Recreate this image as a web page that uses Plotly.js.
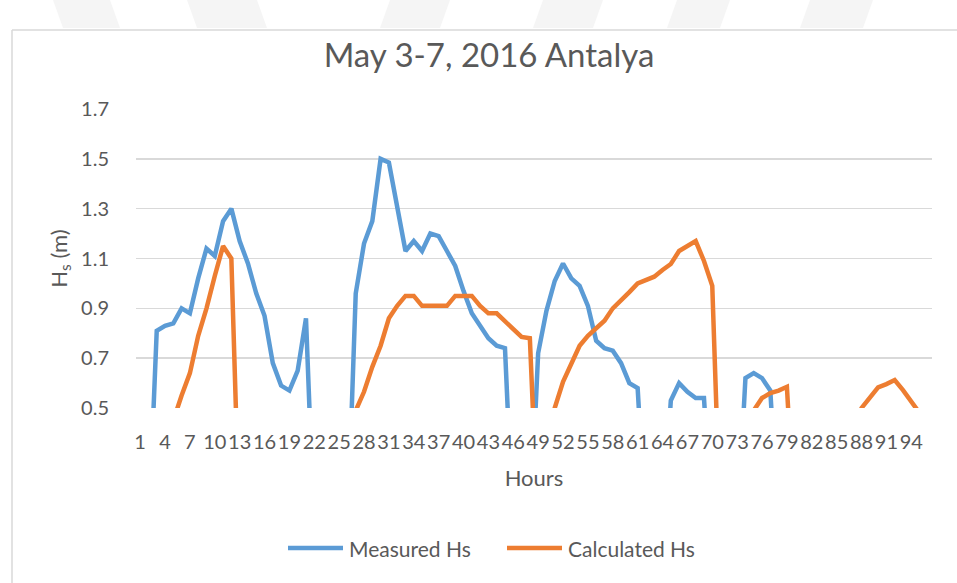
<!DOCTYPE html>
<html>
<head>
<meta charset="utf-8">
<script src="https://cdn.plot.ly/plotly-3.0.1.min.js"></script>
<style>
html,body{margin:0;padding:0;background:#fff;}
#chart{width:957px;height:583px;}
</style>
</head>
<body>
<div id="chart"></div>
<script>
// Hours (categories)
var hours = [1,2,3,4,5,6,7,8,9,10,11,12,13,14,15,16,17,18,19,20,21,22,23,24,25,26,27,28,29,30,31,32,33,34,35,36,37,38,39,40,41,42,43,44,45,46,47,48,49,50,51,52,53,54,55,56,57,58,59,60,61,62,63,64,65,66,67,68,69,70,71,72,73,74,75,76,77,78,79,80,81,82,83,84,85,86,87,88,89,90,91,92,93,94,95,96];

// Measured Hs (m)
var measuredHs = [0,0,0.81,0.83,0.84,0.90,0.88,1.02,1.14,1.11,1.25,1.30,1.17,1.08,0.96,0.87,0.68,0.59,0.57,0.65,0.86,0,0,0,0,0,0.96,1.16,1.25,1.50,1.485,1.31,1.13,1.17,1.13,1.20,1.19,1.13,1.07,0.97,0.88,0.83,0.78,0.75,0.74,0,0,0,0.72,0.89,1.01,1.08,1.02,0.99,0.91,0.77,0.74,0.73,0.68,0.60,0.58,0,0,0,0.53,0.60,0.565,0.54,0.54,0,0,0,0,0.62,0.64,0.62,0.57,0,0,0,0,0,0,0,0,0,0,0,0,0,0,0,0,0,0,0];

// Calculated Hs (m)
var calculatedHs = [0.30,0.33,0.37,0.41,0.45,0.55,0.64,0.79,0.90,1.03,1.15,1.10,0,0,0,0,0,0,0,0,0,0,0,0,0,0,0.49,0.565,0.665,0.75,0.86,0.91,0.95,0.95,0.91,0.91,0.91,0.91,0.95,0.95,0.95,0.91,0.88,0.88,0.85,0.82,0.785,0.78,0,0,0.50,0.605,0.68,0.75,0.79,0.82,0.85,0.90,0.93,0.965,1.00,1.015,1.027,1.054,1.078,1.13,1.15,1.17,1.09,0.99,0,0,0,0,0.49,0.54,0.56,0.57,0.585,0,0,0,0,0,0,0,0,0.50,0.545,0.583,0.596,0.612,0.572,0.53,0.48,0.45];

// Tick labels
var xTickVals = [1,4,7,10,13,16,19,22,25,28,31,34,37,40,43,46,49,52,55,58,61,64,67,70,73,76,79,82,85,88,91,94];
var xTickText = ['1','4','7','10','13','16','19','22','25','28','31','34','37','40','43','46','49','52','55','58','61','64','67','70','73','76','79','82','85','88','91','94'];
var yTickVals = [0.5,0.7,0.9,1.1,1.3,1.5,1.7];

var seriesNames = ['Measured Hs','Calculated Hs'];
var seriesColors = ['#5B9BD5','#ED7D31'];

var W = 957, H = 583;
var mL = 136, mR = 25, mT = 109, mB = 175;
var pw = W - mL - mR, ph = H - mT - mB;
function px(x){ return (x - mL) / pw; }
function py(y){ return (H - mB - y) / ph; }

var FONT = 'Lato, "Open Sans", sans-serif';
var TXT = '#595959';

var traces = [
  {x: hours, y: measuredHs, type: 'scatter', mode: 'lines', name: seriesNames[0],
   line: {color: seriesColors[0], width: 4.5}, showlegend: false},
  {x: hours, y: calculatedHs, type: 'scatter', mode: 'lines', name: seriesNames[1],
   line: {color: seriesColors[1], width: 4.5}, showlegend: false}
];

var shapes = [];
// outer chart frame (left + top border)
shapes.push({type:'line', xref:'paper', yref:'paper', x0:px(12), x1:px(12), y0:py(30), y1:py(600), line:{color:'#d9d9d9', width:1.5}});
shapes.push({type:'line', xref:'paper', yref:'paper', x0:px(12), x1:px(970), y0:py(30), y1:py(30), line:{color:'#d9d9d9', width:1.5}});
// faint watermark stripes above the frame
var stripes = [[53,110,1],[187,257,1],[390,450,-1],[543,603,-1],[677,730,-1],[810,873,-1]];
stripes.forEach(function(s){
  var a = s[0], b = s[1], d = 10 * s[2];
  shapes.push({type:'path', xref:'paper', yref:'paper', layer:'below',
    path: 'M'+px(a)+','+py(0)+' L'+px(b)+','+py(0)+' L'+px(b+d)+','+py(28)+' L'+px(a+d)+','+py(28)+' Z',
    fillcolor:'#f5f5f5', line:{width:0}});
});
// custom legend line samples
var legY = py(548);
shapes.push({type:'line', xref:'paper', yref:'paper', x0:px(288), x1:px(343), y0:legY, y1:legY, line:{color:seriesColors[0], width:4.5}});
shapes.push({type:'line', xref:'paper', yref:'paper', x0:px(507), x1:px(562), y0:legY, y1:legY, line:{color:seriesColors[1], width:4.5}});

var annotations = [
  {xref:'paper', yref:'paper', x:px(347), y:legY, xanchor:'left', yanchor:'middle', showarrow:false,
   text: seriesNames[0], font:{family:FONT, size:21, color:TXT}},
  {xref:'paper', yref:'paper', x:px(566), y:legY, xanchor:'left', yanchor:'middle', showarrow:false,
   text: seriesNames[1], font:{family:FONT, size:21, color:TXT}}
];

var layout = {
  width: W, height: H,
  margin: {l: mL, r: mR, t: mT, b: mB, pad: 0},
  paper_bgcolor: '#ffffff', plot_bgcolor: '#ffffff',
  font: {family: FONT, color: TXT},
  title: {text: 'May 3-7, 2016 Antalya', font: {family: FONT, size: 33, color: TXT},
          x: 489/W, xanchor: 'center', xref: 'container', y: 1 - 55/H, yanchor: 'middle', yref: 'container'},
  xaxis: {
    range: [0.5, 96.5], tickmode: 'array', tickvals: xTickVals, ticktext: xTickText,
    showgrid: false, zeroline: false, showline: false,
    ticks: 'outside', ticklen: 16, tickcolor: 'rgba(0,0,0,0)',
    tickfont: {family: FONT, size: 20, color: TXT}, tickangle: 0,
    title: {text: 'Hours', font: {family: FONT, size: 22, color: TXT}, standoff: 18},
    fixedrange: true
  },
  yaxis: {
    range: [0.5, 1.7], tickmode: 'array', tickvals: yTickVals, tickformat: '.1f',
    showgrid: true, gridcolor: '#d9d9d9', gridwidth: 1.5, zeroline: false, showline: false,
    ticks: 'outside', ticklen: 22, tickcolor: 'rgba(0,0,0,0)',
    tickfont: {family: FONT, size: 20, color: TXT},
    title: {text: 'H<sub>s</sub> (m)', font: {family: FONT, size: 22, color: TXT}, standoff: 7},
    fixedrange: true
  },
  shapes: shapes,
  annotations: annotations,
  showlegend: false
};

Plotly.newPlot('chart', traces, layout, {displayModeBar: false, staticPlot: true});
</script>
</body>
</html>
